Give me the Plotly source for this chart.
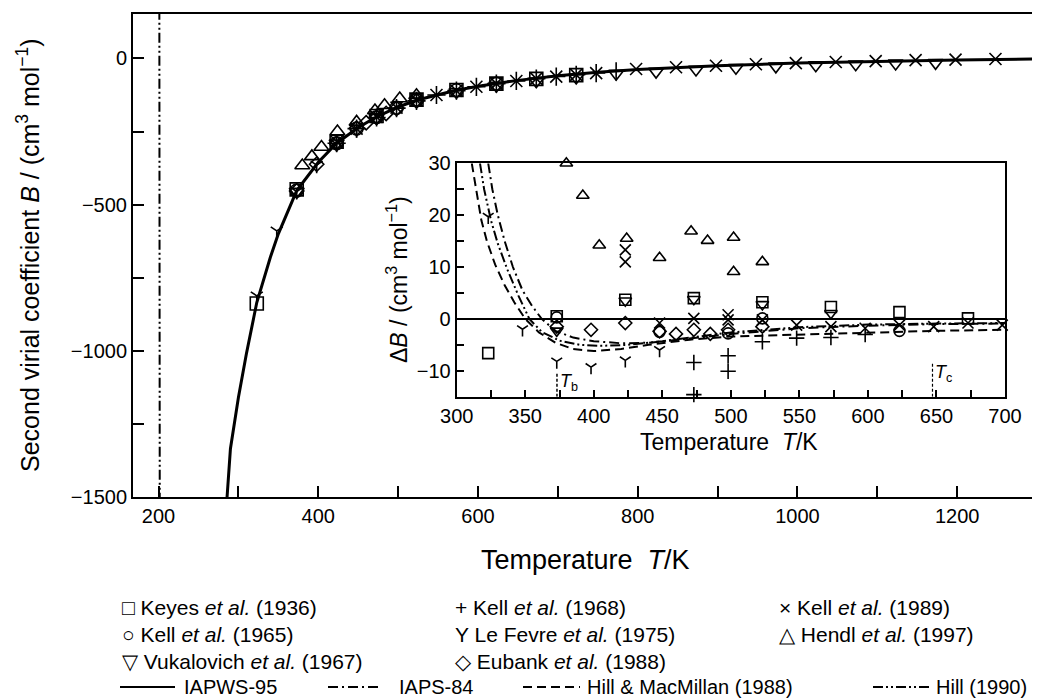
import plotly.graph_objects as go

# ---------------- data ----------------
# Main plot: IAPWS-95 curve, B / (cm3 mol-1) vs T / K
iapws_T = [283, 286, 290, 300, 310, 323, 340, 350, 373, 400, 423, 450, 473, 500,
           523, 550, 573, 600, 650, 700, 750, 800, 900, 1000, 1100, 1200, 1300]
iapws_B = [-1610, -1490, -1335, -1160, -1010, -835, -680, -600, -452, -355, -290,
           -236, -200, -166, -143, -124, -109, -95, -75, -59, -47, -38, -25, -16,
           -10, -5, -2]

# Hill (1990) pole in the main plot (vertical line near 201 K)
hill90_main_T = [201.5, 201.0]
hill90_main_B = [-1520, 160]

# Main-plot experimental points
keyes_T_main = [323, 373, 423, 473, 523, 573, 623, 673, 723]
keyes_B_main = [-838, -448, -285, -197, -141, -108, -86, -70, -57]

kell65_T_main = [373, 423, 448, 473, 498, 523, 573, 623]
kell65_B_main = [-452, -290, -240, -201, -169, -143, -109, -87]

vuk_T_main = [373, 423, 473, 523, 573, 623, 673, 723, 773, 823, 873, 923, 973,
              1023, 1073, 1123, 1173]
vuk_B_main = [-455, -290, -203, -147, -115, -93, -78, -65, -52, -45, -38, -32,
              -27, -23, -20, -17, -15]

kell68_T_main = [423, 448, 473, 498, 523, 548, 573, 598, 623, 648, 673, 698, 723,
                 748, 773]
kell68_B_main = [-290, -240, -202, -170, -145, -125, -110, -97, -86, -77, -69,
                 -62, -56, -50, -44]

lefevre_T_main = [323, 348, 373, 398, 423, 448]
lefevre_B_main = [-812, -590, -455, -365, -292, -243]

eubank_T_main = [373, 398, 423, 448, 460, 473, 485, 498, 523]
eubank_B_main = [-453, -362, -291, -239, -220, -202, -188, -171, -145]

kell89_T_main = [423, 448, 473, 498, 523, 548, 573, 598, 623, 648, 673, 698, 723,
                 748, 798, 848, 898, 948, 998, 1048, 1098, 1148, 1198, 1248]
kell89_B_main = [-285, -240, -200, -168, -143, -125, -110, -97, -86, -77, -69,
                 -62, -56, -50, -36, -30, -25, -20, -16, -12, -9, -6, -4, -2]

hendl_T_main = [380, 392, 404, 424, 448, 471, 483, 502, 523]
hendl_B_main = [-366, -335, -303, -250, -217, -178, -160, -137, -126]

# Inset: deviations dB / (cm3 mol-1) from IAPWS-95
keyes_T = [323, 373, 423, 473, 523, 573, 623, 673]
keyes_dB = [-6.6, 0.5, 3.7, 4.0, 3.2, 2.3, 1.3, 0.1]

kell65_T = [373, 448, 498, 523, 623]
kell65_dB = [0.3, -2.5, -2.8, 0.1, -2.3]

vuk_T = [373, 423, 473, 523, 573]
vuk_dB = [-2.3, 3.5, 3.8, 2.8, 1.1]

kell68_T = [473, 473, 498, 498, 523, 548, 573, 598]
kell68_dB = [-8.4, -14.6, -7.1, -10.1, -4.4, -3.7, -3.6, -3.0]

lefevre_T = [323, 348, 373, 398, 423, 448]
lefevre_dB = [19.7, -2.0, -8.2, -9.3, -8.0, -6.0]

eubank_T = [373, 398, 423, 448, 460, 473, 485, 498, 523]
eubank_dB = [-1.5, -2.1, -0.8, -2.4, -2.9, -2.1, -2.9, -2.1, -1.5]

kell89_T = [423, 423, 448, 473, 498, 498, 523, 548, 573, 598, 623, 648, 673, 698]
kell89_dB = [13.3, 11.0, -0.8, 0.1, 0.8, -0.2, -0.2, -1.2, -1.5, -1.8, -1.2,
             -1.5, -0.8, -1.2]

hendl_T = [380, 392, 404, 424, 448, 471, 483, 502, 502, 523]
hendl_dB = [30.0, 23.8, 14.2, 15.5, 11.8, 16.9, 15.1, 15.7, 9.1, 11.0]

# Inset model curves
iapws_inset_T = [300, 700]
iapws_inset_dB = [0, 0]

iaps84_T = [323, 326, 330, 335, 341, 348, 355, 362, 372, 385, 400, 420, 440, 460,
            480, 500, 525, 550, 600, 650, 700]
iaps84_dB = [30, 25, 20, 15, 10, 5.5, 2.5, 0, -2.3, -3.6, -4.3, -4.7, -4.6, -4.1,
             -3.5, -2.9, -2.3, -1.8, -1.3, -1.0, -0.9]

hm88_T = [311, 314, 318, 322, 328, 335, 342, 350, 360, 372, 385, 400, 420, 440,
          470, 500, 550, 600, 650, 700]
hm88_dB = [30, 25, 19, 15, 10.5, 6.5, 3.2, 0, -2.6, -4.6, -5.8, -6.2, -5.8, -5.0,
           -4.0, -3.4, -3.0, -2.6, -2.3, -2.1]

hill90_T = [317, 320, 325, 330, 337, 345, 353, 362, 375, 390, 405, 425, 450, 475,
            500, 550, 600, 650, 700]
hill90_dB = [30, 25, 19, 14.5, 9.5, 4.5, 0, -2.5, -4.2, -5.0, -5.2, -5.0, -4.3,
             -3.4, -2.6, -1.6, -1.1, -0.9, -0.8]

T_b = 373.15
T_c = 647.1

# ---------------- styles ----------------
# page body has an 8 px margin; the figure is sized so that it fills the window
OFF = 8
W, H = 1040 - OFF, 700 - OFF
FONT = "Liberation Sans, Arial, sans-serif"
DASH_IAPS = "10px,4px,2px,4px"
DASH_HM = "9px,5px"
DASH_HILL = "10px,3px,2px,3px,2px,3px"


def px(x):
    return (x - OFF) / W


def py(y):
    return 1 - (y - OFF) / H


fig = go.Figure()


def add_markers(T, v, symbol, size, xa, ya, lw=1.6):
    fig.add_trace(go.Scatter(
        x=T, y=v, mode="markers", xaxis=xa, yaxis=ya, showlegend=False,
        cliponaxis=False,
        marker=dict(symbol=symbol, size=size, color="black",
                    line=dict(color="black", width=lw))))


def add_line(T, v, dash, width, xa, ya):
    fig.add_trace(go.Scatter(
        x=T, y=v, mode="lines", xaxis=xa, yaxis=ya, showlegend=False,
        line=dict(color="black", width=width, dash=dash)))


# main plot
add_line(hill90_main_T, hill90_main_B, DASH_HILL, 2, "x", "y")
add_line(iapws_T, iapws_B, "solid", 3, "x", "y")
MS = 13
add_markers(keyes_T_main, keyes_B_main, "square-open", MS, "x", "y")
add_markers(kell65_T_main, kell65_B_main, "circle-open", MS, "x", "y")
add_markers(vuk_T_main, vuk_B_main, "triangle-down-open", MS, "x", "y")
add_markers(kell68_T_main, kell68_B_main, "cross-thin-open", MS, "x", "y")
add_markers(lefevre_T_main, lefevre_B_main, "y-down-open", MS - 3, "x", "y")
add_markers(eubank_T_main, eubank_B_main, "diamond-open", MS - 2, "x", "y")
add_markers(kell89_T_main, kell89_B_main, "x-thin-open", MS - 1, "x", "y")
add_markers(hendl_T_main, hendl_B_main, "triangle-up-open", MS, "x", "y")

# inset
add_line(iapws_inset_T, iapws_inset_dB, "solid", 2, "x2", "y2")
add_line(iaps84_T, iaps84_dB, DASH_IAPS, 2, "x2", "y2")
add_line(hm88_T, hm88_dB, DASH_HM, 2, "x2", "y2")
add_line(hill90_T, hill90_dB, DASH_HILL, 2, "x2", "y2")
IS = 11
add_markers(keyes_T, keyes_dB, "square-open", IS, "x2", "y2")
add_markers(kell65_T, kell65_dB, "circle-open", IS, "x2", "y2")
add_markers(vuk_T, vuk_dB, "triangle-down-open", IS, "x2", "y2")
add_markers(kell68_T, kell68_dB, "cross-thin-open", IS, "x2", "y2")
add_markers(lefevre_T, lefevre_dB, "y-down-open", IS - 2, "x2", "y2")
add_markers(eubank_T, eubank_dB, "diamond-open", IS - 1, "x2", "y2")
add_markers(kell89_T, kell89_dB, "x-thin-open", IS, "x2", "y2")
add_markers(hendl_T, hendl_dB, "triangle-up-open", IS, "x2", "y2")

tickfont = dict(family=FONT, size=20, color="black")
ax_common = dict(showgrid=False, zeroline=False, showline=True, linecolor="black",
                 ticks="inside", tickcolor="black", tickfont=tickfont,
                 automargin=False)

fig.update_layout(
    width=W, height=H, margin=dict(l=0, r=0, t=0, b=0, autoexpand=False),
    paper_bgcolor="white", plot_bgcolor="white", showlegend=False,
    font=dict(family=FONT, color="black"),
    xaxis=dict(domain=[px(133), px(1037)], range=[168, 1300], anchor="y",
               tick0=0, dtick=200, ticklen=11, tickwidth=1.5, linewidth=2,
               mirror=True,
               minor=dict(dtick=100, tick0=0, ticks="inside", ticklen=11,
                          tickwidth=1.5, tickcolor="black"),
               **ax_common),
    yaxis=dict(domain=[py(497), py(14)], range=[-1500, 152], anchor="x",
               tick0=0, dtick=500, ticklen=11, tickwidth=1.5, linewidth=2,
               mirror=True,
               minor=dict(dtick=250, tick0=0, ticks="inside", ticklen=11,
                          tickwidth=1.5, tickcolor="black"),
               **ax_common),
    xaxis2=dict(domain=[px(456.7), px(1005)], range=[300, 700], anchor="y2",
                tick0=0, dtick=50, ticklen=7, tickwidth=1.5, linewidth=2,
                mirror=True,
                minor=dict(dtick=25, tick0=0, ticks="inside", ticklen=7,
                           tickwidth=1.5, tickcolor="black"),
                **ax_common),
    yaxis2=dict(domain=[py(396.7), py(163.3)], range=[-15, 30], anchor="x2",
                tick0=0, dtick=10, ticklen=7, tickwidth=1.5, linewidth=2,
                mirror=True,
                minor=dict(dtick=5, tick0=0, ticks="inside", ticklen=7,
                           tickwidth=1.5, tickcolor="black"),
                **ax_common),
)

annotations = []
shapes = []


def ann(x, y, text, size, xanchor="center", yanchor="middle", angle=0,
        xref="paper", yref="paper"):
    annotations.append(dict(x=x, y=y, xref=xref, yref=yref, text=text,
                            showarrow=False, xanchor=xanchor, yanchor=yanchor,
                            textangle=angle,
                            font=dict(family=FONT, size=size, color="black")))


# axis titles
ann(px(585), py(560), "Temperature  <i>T</i>/K", 27)
ann(px(28), py(255), "Second virial coefficient <i>B</i> / (cm<sup>3</sup> mol<sup>−1</sup>)",
    25, angle=-90)
ann(px(729), py(442), "Temperature  <i>T</i>/K", 23)
ann(px(397), py(280), "Δ<i>B</i> / (cm<sup>3</sup> mol<sup>−1</sup>)", 23, angle=-90)

# T_b, T_c markers in inset
shapes.append(dict(type="line", xref="x2", yref="y2", x0=T_b, x1=T_b, y0=-15, y1=-10.5,
                   line=dict(color="black", width=1.5, dash="3px,2px")))
shapes.append(dict(type="line", xref="x2", yref="y2", x0=T_c, x1=T_c, y0=-15, y1=-8.5,
                   line=dict(color="black", width=1.2, dash="3px,2px")))
ann(T_b + 0.8, -12.2, "<i>T</i><sub>b</sub>", 18, xanchor="left", xref="x2", yref="y2")
ann(T_c + 0.5, -10.6, "<i>T</i><sub>c</sub>", 18, xanchor="left", xref="x2", yref="y2")

# legend (text rows)
LS = 21
col = [120, 453, 777]
rows = [607, 634, 661]
legend_items = [
    (0, 0, "□ Keyes <i>et al.</i> (1936)"),
    (1, 0, "+ Kell <i>et al.</i> (1968)"),
    (2, 0, "× Kell <i>et al.</i> (1989)"),
    (0, 1, "○ Kell <i>et al.</i> (1965)"),
    (1, 1, "Y Le Fevre <i>et al.</i> (1975)"),
    (2, 1, "△ Hendl <i>et al.</i> (1997)"),
    (0, 2, "▽ Vukalovich <i>et al.</i> (1967)"),
    (1, 2, "◇ Eubank <i>et al.</i> (1988)"),
]
for c, r, t in legend_items:
    ann(px(col[c]), py(rows[r]), t, LS, xanchor="left")

line_row = 687
line_items = [
    (120, 175, "solid", 182, "IAPWS-95"),
    (328, 380, DASH_IAPS, 397, "IAPS-84"),
    (523, 580, DASH_HM, 585, "Hill &amp; MacMillan (1988)"),
    (873, 930, DASH_HILL, 934, "Hill (1990)"),
]
for x0, x1, dash, tx, label in line_items:
    shapes.append(dict(type="line", xref="paper", yref="paper",
                       x0=px(x0), x1=px(x1), y0=py(line_row), y1=py(line_row),
                       line=dict(color="black", width=2, dash=dash)))
    ann(px(tx), py(line_row), label, 20, xanchor="left")

fig.update_layout(annotations=annotations, shapes=shapes)
fig.write_html("out.html")
